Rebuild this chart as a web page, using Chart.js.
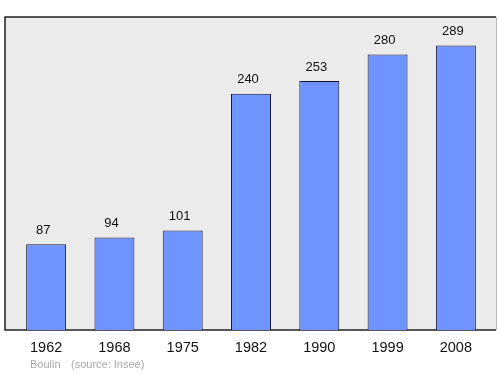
<!DOCTYPE html>
<html>
<head>
<meta charset="utf-8">
<script src="https://cdn.jsdelivr.net/npm/chart.js@4"></script>
<style>
  html, body { margin: 0; padding: 0; background: #fff; }
  #wrap { width: 500px; height: 374px; }
</style>
</head>
<body>
<div id="wrap"><canvas id="popChart" width="500" height="374"></canvas></div>
<script>
// Population data
const years = ["1962", "1968", "1975", "1982", "1990", "1999", "2008"];
const population = [87, 94, 101, 240, 253, 280, 289];
const footerName = "Boulin";
const footerSource = "(source: Insee)";

// Gray panel with frame behind the bars
const panelPlugin = {
    id: "panel",
    beforeDraw(chart) {
        const ctx = chart.ctx;
        const area = chart.chartArea;
        const left = 5, right = 496;
        ctx.save();
        ctx.fillStyle = "#ebebeb";
        ctx.fillRect(left, area.top, right - left, area.bottom - area.top);
        ctx.strokeStyle = "#bbbbbb";
        ctx.lineWidth = 1;
        ctx.beginPath();
        ctx.moveTo(right + 0.5, area.top);
        ctx.lineTo(right + 0.5, area.bottom);
        ctx.stroke();
        ctx.strokeStyle = "#222222";
        ctx.lineWidth = 1.5;
        ctx.beginPath();
        ctx.moveTo(right, area.top);
        ctx.lineTo(left, area.top);
        ctx.lineTo(left, area.bottom);
        ctx.lineTo(right, area.bottom);
        ctx.stroke();
        ctx.restore();
    },
    afterDatasetsDraw(chart) {
        const ctx = chart.ctx;
        const meta = chart.getDatasetMeta(0);
        ctx.save();
        ctx.fillStyle = "#111111";
        ctx.font = "13px 'Liberation Sans', Arial, sans-serif";
        ctx.textAlign = "center";
        ctx.textBaseline = "middle";
        meta.data.forEach((bar, i) => {
            ctx.fillText(String(population[i]), bar.x - 3, bar.y - 14);
        });
        // footer
        ctx.fillStyle = "#a8a8a8";
        ctx.font = "11px 'Liberation Sans', Arial, sans-serif";
        ctx.textAlign = "left";
        ctx.fillText(footerName, 30, 365);
        ctx.fillText(footerSource, 71, 365);
        ctx.restore();
    }
};

const ctx = document.getElementById("popChart").getContext("2d");
new Chart(ctx, {
    type: "bar",
    data: {
        labels: years,
        datasets: [
            {
                data: population,
                backgroundColor: "#7094ff",
                borderColor: "#141430",
                borderWidth: 1,
                barPercentage: 0.585,
                categoryPercentage: 1,
            },
        ],
    },
    options: {
        responsive: false,
        animation: false,
        layout: { padding: { left: 12, right: 10, top: 17, bottom: 0 } },
        plugins: {
            legend: { display: false },
            tooltip: { enabled: false },
        },
        scales: {
            x: {
                grid: { display: false, drawTicks: false },
                border: { display: false },
                ticks: {
                    color: "#111111",
                    padding: 9,
                    font: { family: "'Liberation Sans', Arial, sans-serif", size: 14.5 },
                },
                afterFit(scale) { scale.height = 44; },
            },
            y: {
                display: false,
                min: 0,
                max: 318,
            },
        },
    },
    plugins: [panelPlugin],
});
</script>
</body>
</html>
